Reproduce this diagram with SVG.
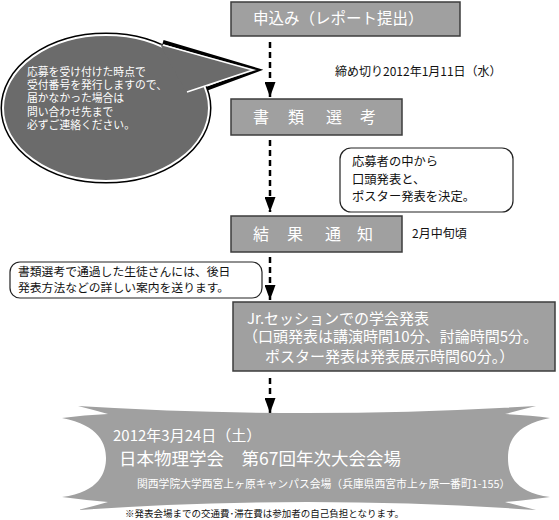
<svg xmlns="http://www.w3.org/2000/svg" width="559" height="520" viewBox="0 0 559 520">
<style>
.box{fill:#a0a0a0;stroke:#3c3c3c;stroke-width:1.5}
.note{fill:#fff;stroke:#222;stroke-width:1.2}
.wt{fill:#fff;font-family:"Noto Sans CJK JP","Noto Sans",sans-serif}
.bt{fill:#111;font-family:"Noto Sans CJK JP","Noto Sans",sans-serif}
.dash{stroke:#000;stroke-width:2.5;stroke-dasharray:6 4;fill:none}
</style>
<defs>
<marker id="ah" markerWidth="15" markerHeight="11" refX="15" refY="5.5" orient="auto" markerUnits="userSpaceOnUse" viewBox="0 0 15 11">
<path d="M0,0 L15,5.5 L0,11 Z" fill="#000"/>
</marker>
</defs>
<rect width="559" height="520" fill="#fff"/>

<g id="callout">
<path d="M163,42 L257,70 L190,95" fill="none" stroke="#000" stroke-width="4"/>
<ellipse cx="106" cy="108" rx="103" ry="73" fill="#6b6b6b" stroke="#000" stroke-width="5"/>
<ellipse cx="106" cy="108" rx="103" ry="73" fill="#6b6b6b" stroke="#fff" stroke-width="2"/>
<path d="M160,44 L257,70 L186,92 Z" fill="#6b6b6b"/>
<path d="M163,45 L253,70 L187,92" fill="none" stroke="#fff" stroke-width="1.5"/>
<text class="wt" font-size="10.8" x="27" y="76">応募を受け付けた時点で</text>
<text class="wt" font-size="10.8" x="27" y="89">受付番号を発行しますので、</text>
<text class="wt" font-size="10.8" x="27" y="102">届かなかった場合は</text>
<text class="wt" font-size="10.8" x="27" y="116">問い合わせ先まで</text>
<text class="wt" font-size="10.8" x="27" y="129">必ずご連絡ください。</text>
</g>

<g id="connectors">
<line class="dash" x1="270" y1="42" x2="270" y2="97" marker-end="url(#ah)"/>
<line class="dash" x1="270" y1="140" x2="270" y2="212" marker-end="url(#ah)"/>
<line class="dash" x1="270" y1="257" x2="270" y2="300" marker-end="url(#ah)"/>
<line class="dash" x1="270" y1="378" x2="270" y2="413" marker-end="url(#ah)"/>
</g>

<g id="step1">
<rect class="box" x="231" y="2" width="229" height="34"/>
<text class="wt" font-size="15.5" x="253" y="24">申込み（レポート提出）</text>
</g>
<g id="deadline">
<text class="bt" font-size="12" x="335" y="76">締め切り2012年1月11日（水）</text>
</g>

<g id="step2">
<rect class="box" x="231" y="99" width="171" height="36"/>
<text class="wt" font-size="16" text-anchor="middle" y="123"><tspan x="261">書</tspan><tspan x="296">類</tspan><tspan x="334">選</tspan><tspan x="368">考</tspan></text>
</g>

<g id="note1">
<rect class="note" x="340" y="148" width="173" height="64" rx="11"/>
<text class="bt" font-size="12.3" x="352" y="166">応募者の中から</text>
<text class="bt" font-size="12.3" x="352" y="184">口頭発表と、</text>
<text class="bt" font-size="12.3" x="352" y="201">ポスター発表を決定。</text>
</g>

<g id="step3">
<rect class="box" x="231" y="216" width="171" height="36"/>
<text class="wt" font-size="16" text-anchor="middle" y="240"><tspan x="261">結</tspan><tspan x="295">果</tspan><tspan x="333">通</tspan><tspan x="365">知</tspan></text>
</g>
<g id="timing">
<text class="bt" font-size="12" x="412" y="238">2月中旬頃</text>
</g>

<g id="note2">
<rect class="note" x="10" y="262" width="252" height="36" rx="10"/>
<text class="bt" font-size="11.8" x="18" y="276">書類選考で通過した生徒さんには、後日</text>
<text class="bt" font-size="11.8" x="18" y="292">発表方法などの詳しい案内を送ります。</text>
</g>

<g id="step4">
<rect class="box" x="233" y="302" width="322" height="69"/>
<text class="wt" font-size="15" x="247" y="324">Jr.セッションでの学会発表</text>
<text class="wt" font-size="15" x="243" y="342">（口頭発表は講演時間10分、討論時間5分。</text>
<text class="wt" font-size="15" x="265" y="362">ポスター発表は発表展示時間60分。）</text>
</g>

<g id="event">
<path fill="#a0a0a0" d="M78,406 Q307,420 536,406 Q520,410 505,414 Q530,415 550,418 C512,425 508,445 508,458 C508,472 512,492 550,497 Q530,500 505,502 Q520,506 536,510 Q307,494 78,510 Q94,506 108,502 Q84,500 62,497 C100,492 106,472 106,458 C106,445 100,425 62,418 Q84,415 108,414 Q94,410 78,406 Z"/>
<text class="wt" font-size="15" x="113" y="441">2012年3月24日（土）</text>
<text class="wt" font-size="17.5" x="119" y="465">日本物理学会　第67回年次大会会場</text>
<text class="wt" font-size="10.8" x="137" y="488">関西学院大学西宮上ヶ原キャンパス会場（兵庫県西宮市上ヶ原一番町1-155）</text>
</g>
<g id="footnote">
<text class="bt" font-size="9.5" x="125" y="517">※発表会場までの交通費･滞在費は参加者の自己負担となります。</text>
</g>
</svg>
